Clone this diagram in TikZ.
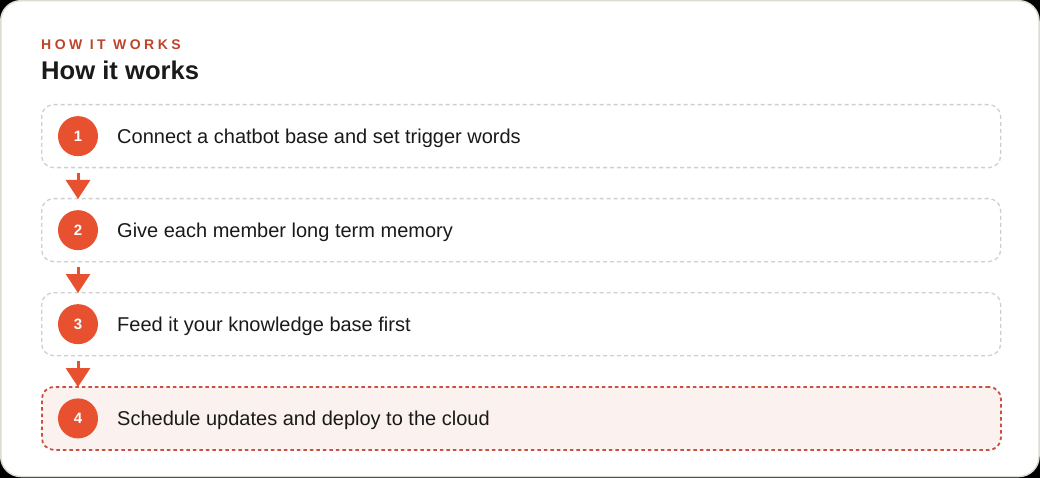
\documentclass[tikz,border=0pt]{standalone}
\usepackage{fontspec}
\setmainfont{Liberation Sans}
\usetikzlibrary{arrows.meta}
\definecolor{accent}{HTML}{E8512F}
\definecolor{eyebrow}{HTML}{C0432A}
\definecolor{ink}{HTML}{1A1A1A}
\definecolor{dashgray}{HTML}{CFCFCF}
\definecolor{cardline}{HTML}{DEDBD3}
\definecolor{hifill}{HTML}{FBF1EE}
\definecolor{hiline}{HTML}{C8513F}
\tikzset{
  stepbox/.style={draw=dashgray, line width=1.3pt, dash pattern=on 4pt off 3pt, rounded corners=12pt,
    minimum width=959pt, minimum height=63pt, anchor=north west, inner sep=0pt},
  hibox/.style={stepbox, draw=hiline, fill=hifill, line width=1.8pt, dash pattern=on 3.5pt off 3pt},
  numdot/.style={circle, fill=accent, minimum size=40pt, inner sep=0pt, text=white,
    font=\fontsize{15}{15}\selectfont\bfseries},
  steptext/.style={anchor=base west, inner sep=0pt, text=ink, font=\fontsize{20}{22}\selectfont},
  flow/.style={draw=accent, line width=3pt, -{Triangle[width=24pt,length=19pt]}, shorten >=-1pt}
}
\begin{document}
\begin{tikzpicture}[x=1pt,y=-1pt]
\useasboundingbox (0,0) rectangle (1040,478);
\fill[black] (0,0) rectangle (1040,478);
\draw[fill=white, draw=cardline, line width=1.5pt, rounded corners=20pt] (0.75,0.75) rectangle (1039,476.5);
\node[anchor=base west, inner sep=0pt, text=eyebrow, font=\fontsize{14}{14}\selectfont\bfseries\addfontfeature{LetterSpace=25}] (eyebrow) at (41,50) {HOW IT WORKS};
\node[anchor=base west, inner sep=0pt, text=ink, font=\fontsize{25.6}{26}\selectfont\bfseries] (title) at (41,80) {How it works};
\node[stepbox] (s1) at (41,104) {};
\node[stepbox] (s2) at (41,198) {};
\node[stepbox] (s3) at (41,292) {};
\node[hibox] (s4) at (41,386) {};
\foreach \i/\t in {1/{Connect a chatbot base and set trigger words},2/{Give each member long term memory},3/{Feed it your knowledge base first},4/{Schedule updates and deploy to the cloud}}{
  \node[numdot] (c\i) at ([xshift=37pt]s\i.west) {\i};
  \node[steptext] (t\i) at ([xshift=76pt,yshift=-7pt]s\i.west) {\t};
}
\draw[flow] ([yshift=-5pt]s1.south -| c1) -- (s2.north -| c1);
\draw[flow] ([yshift=-5pt]s2.south -| c2) -- (s3.north -| c2);
\draw[flow] ([yshift=-5pt]s3.south -| c3) -- (s4.north -| c3);
\end{tikzpicture}
\end{document}
